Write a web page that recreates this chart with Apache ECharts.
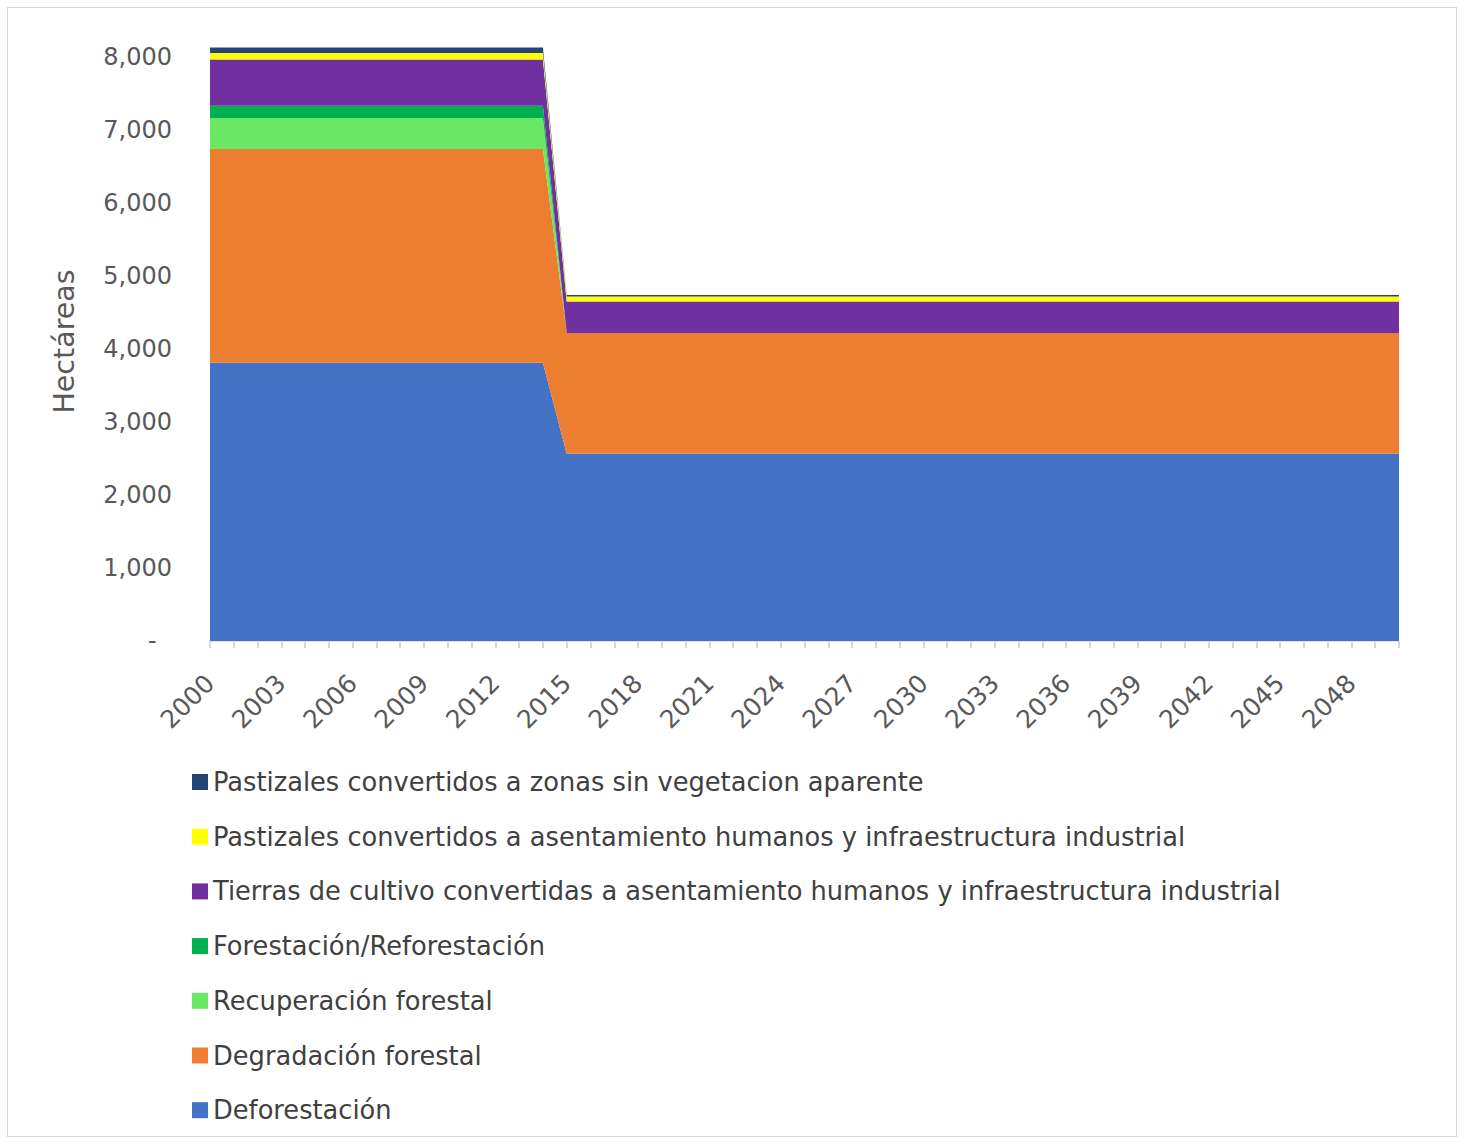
<!DOCTYPE html>
<html><head><meta charset="utf-8">
<script src="https://cdn.jsdelivr.net/npm/echarts@6/dist/echarts.min.js"></script>
<style>
html,body{margin:0;padding:0;background:#fff;}
#frame{position:absolute;left:7px;top:7px;width:1450px;height:1130px;border:1px solid #d9d9d9;box-sizing:border-box;}
#chart{position:absolute;left:0;top:0;width:1465px;height:1143px;}
</style></head>
<body>
<div id="frame"></div>
<div id="chart"></div>
<script>
const years = ['2000','2001','2002','2003','2004','2005','2006','2007','2008','2009','2010','2011','2012','2013','2014','2015','2016','2017','2018','2019','2020','2021','2022','2023','2024','2025','2026','2027','2028','2029','2030','2031','2032','2033','2034','2035','2036','2037','2038','2039','2040','2041','2042','2043','2044','2045','2046','2047','2048','2049','2050'];

// 2000-2014 (15 values), then 2015-2050 (36 values, three rows of 12)
const deforestacion = [3808,3808,3808,3808,3808,3808,3808,3808,3808,3808,3808,3808,3808,3808,3808,
  2562,2562,2562,2562,2562,2562,2562,2562,2562,2562,2562,2562,
  2562,2562,2562,2562,2562,2562,2562,2562,2562,2562,2562,2562,
  2562,2562,2562,2562,2562,2562,2562,2562,2562,2562,2562,2562];
const degradacion = [2927,2927,2927,2927,2927,2927,2927,2927,2927,2927,2927,2927,2927,2927,2927,
  1653,1653,1653,1653,1653,1653,1653,1653,1653,1653,1653,1653,
  1653,1653,1653,1653,1653,1653,1653,1653,1653,1653,1653,1653,
  1653,1653,1653,1653,1653,1653,1653,1653,1653,1653,1653,1653];
const recuperacion = [425,425,425,425,425,425,425,425,425,425,425,425,425,425,425,
  0,0,0,0,0,0,0,0,0,0,0,0,
  0,0,0,0,0,0,0,0,0,0,0,0,
  0,0,0,0,0,0,0,0,0,0,0,0];
const forestacion = [168,168,168,168,168,168,168,168,168,168,168,168,168,168,168,
  0,0,0,0,0,0,0,0,0,0,0,0,
  0,0,0,0,0,0,0,0,0,0,0,0,
  0,0,0,0,0,0,0,0,0,0,0,0];
const tierrasCultivo = [634,634,634,634,634,634,634,634,634,634,634,634,634,634,634,
  433,433,433,433,433,433,433,433,433,433,433,433,
  433,433,433,433,433,433,433,433,433,433,433,433,
  433,433,433,433,433,433,433,433,433,433,433,433];
const pastizalesAsent = [88,88,88,88,88,88,88,88,88,88,88,88,88,88,88,
  68,68,68,68,68,68,68,68,68,68,68,68,
  68,68,68,68,68,68,68,68,68,68,68,68,
  68,68,68,68,68,68,68,68,68,68,68,68];
const pastizalesSinVeg = [73,73,73,73,73,73,73,73,73,73,73,73,73,73,73,
  22,22,22,22,22,22,22,22,22,22,22,22,
  22,22,22,22,22,22,22,22,22,22,22,22,
  22,22,22,22,22,22,22,22,22,22,22,22];

const seriesNames = ['Deforestación','Degradación forestal','Recuperación forestal','Forestación/Reforestación',
  'Tierras de cultivo convertidas a asentamiento humanos y infraestructura industrial',
  'Pastizales convertidos a asentamiento humanos y infraestructura industrial',
  'Pastizales convertidos a zonas sin vegetacion aparente'];
const seriesData = [deforestacion, degradacion, recuperacion, forestacion, tierrasCultivo, pastizalesAsent, pastizalesSinVeg];
const colors = ['#4472C4','#ED7D31','#6AE864','#00B050','#7030A0','#FFFF00','#264478'];

const FONT = '"DejaVu Sans", sans-serif';
const chart = echarts.init(document.getElementById('chart'), null, {renderer:'svg'});
chart.setOption({
  animation:false,
  color: colors,
  grid:{left:210, right:66, top:42, bottom:502, containLabel:false},
  legend:{
    orient:'vertical', left:187, top:762,
    data: seriesNames.slice().reverse(),
    icon:'rect', itemWidth:16, itemHeight:16, itemGap:24.7,
    textStyle:{fontFamily:FONT, fontSize:25.7, color:'#404040', lineHeight:30, padding:[0,0,0,0]},
    selectedMode:false
  },
  xAxis:{
    type:'category', data:years, boundaryGap:false,
    axisLine:{lineStyle:{color:'#d9d9d9', width:1.5}},
    axisTick:{show:true, interval:0, length:7, lineStyle:{color:'#d9d9d9', width:2}},
    axisLabel:{interval:2, rotate:45, fontFamily:FONT, fontSize:25, color:'#595959', margin:38},
    splitLine:{show:false}
  },
  yAxis:{
    type:'value', min:0, max:8200, interval:1000,
    name:'Hectáreas', nameLocation:'middle', nameGap:131,
    nameTextStyle:{fontFamily:FONT, fontSize:28.5, color:'#595959'},
    axisLine:{show:false}, axisTick:{show:false}, splitLine:{show:false},
    axisLabel:{fontFamily:FONT, fontSize:24, color:'#595959', margin:38,
      formatter:function(v){ if(v===0) return '-  '; if(v%1000!==0) return ''; return v.toLocaleString('en-US'); }}
  },
  series: seriesNames.map((n,i)=>({
    name:n, type:'line', stack:'total', data:seriesData[i],
    symbol:'none', showSymbol:false, clip:false, smooth:false,
    lineStyle:{width:0, opacity:0},
    areaStyle:{color:colors[i], opacity:1},
    itemStyle:{color:colors[i]}
  }))
});
</script>
</body></html>
